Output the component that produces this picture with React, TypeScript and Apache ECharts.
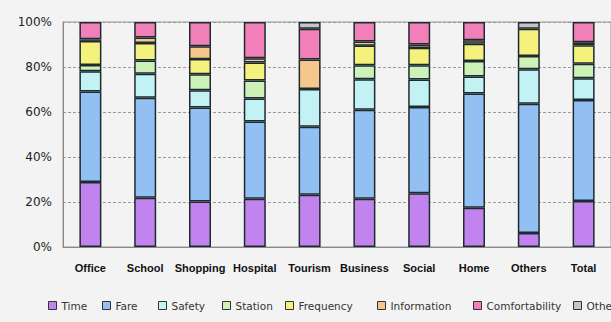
import React, { useEffect, useRef } from "react";
import * as echarts from "echarts";

// Trip purposes along the x axis
const categories = ["Office", "School", "Shopping", "Hospital", "Tourism", "Business", "Social", "Home", "Others", "Total"];

// Share (%) of each reason, per trip purpose
const timeValues = [28.9, 21.9, 20.2, 21.4, 23.2, 21.4, 23.9, 17.4, 6.2, 20.4];
const fareValues = [40.2, 44.4, 41.8, 34.4, 30.3, 39.6, 38.3, 50.8, 57.5, 44.9];
const safetyValues = [9.0, 10.7, 7.7, 10.2, 16.7, 13.6, 12.2, 7.6, 15.3, 9.7];
const stationValues = [2.8, 5.9, 7.1, 8.0, 0, 6.2, 6.4, 6.9, 5.9, 6.4];
const frequencyValues = [10.7, 7.8, 6.7, 8.0, 0, 8.7, 7.7, 7.6, 12.1, 8.3];
const informationValues = [0.7, 2.4, 5.7, 1.9, 13.1, 1.8, 1.5, 1.6, 0, 1.3];
const comfortValues = [7.7, 6.9, 10.8, 16.1, 13.7, 8.7, 10.0, 8.1, 0, 9.0];
const otherValues = [0, 0, 0, 0, 3.0, 0, 0, 0, 3.0, 0];

const yTicks = [0, 20, 40, 60, 80, 100];

const seriesDefs = [
  { name: "Time", data: timeValues, color: "#c184ee" },
  { name: "Fare", data: fareValues, color: "#92c0f2" },
  { name: "Safety", data: safetyValues, color: "#c2f2f4" },
  { name: "Station", data: stationValues, color: "#ccf2b8" },
  { name: "Frequency", data: frequencyValues, color: "#f4f17c" },
  { name: "Information", data: informationValues, color: "#f5c78c" },
  { name: "Comfortability", data: comfortValues, color: "#f17fb8" },
  { name: "Other", data: otherValues, color: "#c6c6c6" },
];

// Legend entry positions (left edge of each icon)
const legendLeft = [48, 102, 158, 222, 285, 377, 473, 573];

export default function App() {
  const ref = useRef<HTMLDivElement>(null);

  useEffect(() => {
    if (!ref.current) return;
    const chart = echarts.init(ref.current, undefined, { renderer: "svg" });

    const legends = seriesDefs.map((s, i) => ({
      show: true,
      data: [s.name],
      left: legendLeft[i],
      top: 300,
      padding: 0,
      icon: "rect",
      itemWidth: 8,
      itemHeight: 8,
      itemGap: 0,
      itemStyle: { borderColor: "#333", borderWidth: 1 },
      textStyle: { fontFamily: "DejaVu Sans, sans-serif", fontSize: 10.5, color: "#333" },
      selectedMode: false,
    }));

    chart.setOption({
      animation: false,
      backgroundColor: "#f3f3f3",
      legend: legends,
      grid: {
        left: 63,
        top: 22,
        width: 551,
        height: 225,
        show: true,
        borderColor: "#9a9a9a",
        borderWidth: 1,
        backgroundColor: "transparent",
      },
      xAxis: {
        type: "category",
        data: categories,
        axisTick: { show: false },
        axisLine: { lineStyle: { color: "#8a8a8a" } },
        axisLabel: {
          margin: 15,
          fontFamily: "Liberation Sans, Arial, sans-serif",
          fontSize: 11,
          fontWeight: "bold",
          color: "#111",
          interval: 0,
        },
      },
      yAxis: {
        type: "value",
        min: yTicks[0],
        max: yTicks[yTicks.length - 1],
        interval: 20,
        axisLine: { show: true, lineStyle: { color: "#8a8a8a" } },
        axisTick: { show: false },
        axisLabel: {
          formatter: "{value}%",
          margin: 11,
          fontFamily: "DejaVu Sans, sans-serif",
          fontSize: 12,
          color: "#222",
        },
        splitLine: { lineStyle: { color: "#9a9a9a", type: [3, 2], width: 1 } },
      },
      series: seriesDefs.map((s) => ({
        name: s.name,
        type: "bar",
        stack: "share",
        barWidth: 22,
        data: s.data.map((v) => (v === 0 ? null : v)),
        itemStyle: { color: s.color, borderColor: "#1e2a30", borderWidth: 1.5 },
      })),
    });

    return () => chart.dispose();
  }, []);

  return (
    <div
      ref={ref}
      style={{ position: "absolute", left: 0, top: 0, width: 611, height: 322 }}
    />
  );
}
